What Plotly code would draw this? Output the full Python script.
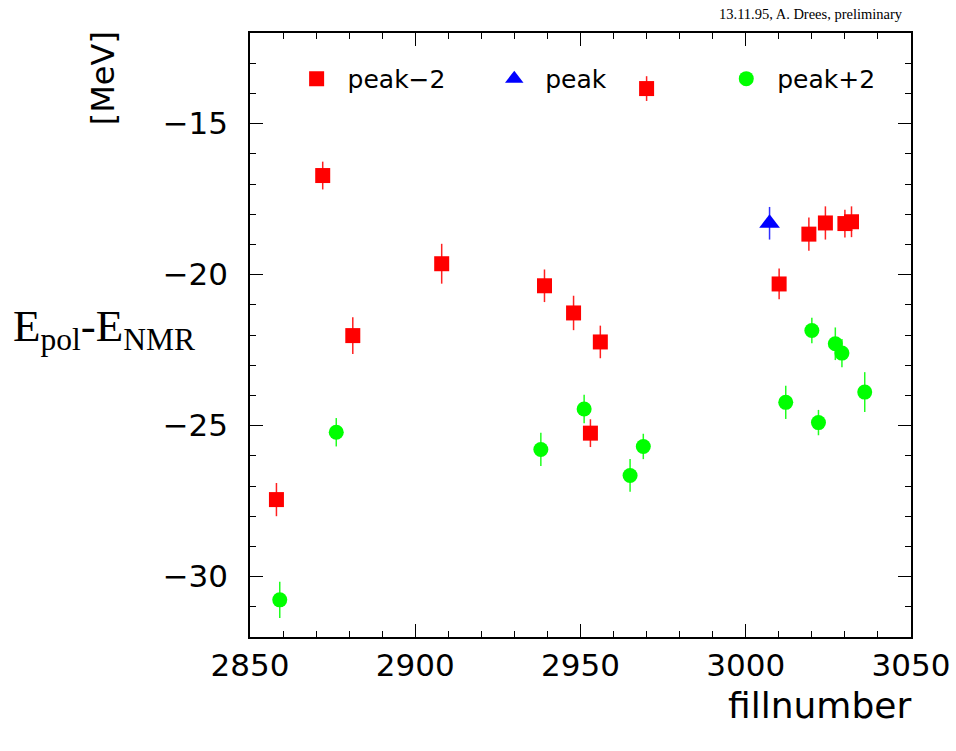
import plotly.graph_objects as go

# peak-2 (red squares)
fill_m2 = [2858, 2872, 2881.1, 2908, 2939.1, 2947.9, 2956, 2953, 2970, 3010.1, 3019.1, 3024.1, 3030, 3032]
de_m2 = [-27.45, -16.72, -22.02, -19.64, -20.37, -21.27, -22.23, -25.25, -13.84, -20.31, -18.66, -18.29, -18.31, -18.25]
err_m2 = [0.55, 0.46, 0.61, 0.66, 0.54, 0.57, 0.54, 0.46, 0.41, 0.51, 0.55, 0.55, 0.46, 0.51]

# peak (blue triangle)
fill_p = [3007.2]
de_p = [-18.3]
err_p = [0.54]

# peak+2 (green circles)
fill_p2 = [2859, 2876.1, 2938, 2951.1, 2965, 2969, 3012.1, 3020, 3022, 3027.1, 3029.1, 3036]
de_p2 = [-30.77, -25.22, -25.79, -24.45, -26.65, -25.69, -24.23, -21.85, -24.9, -22.29, -22.6, -23.89]
err_p2 = [0.6, 0.47, 0.55, 0.47, 0.54, 0.42, 0.55, 0.42, 0.42, 0.54, 0.47, 0.66]

x_ticks = [2850, 2900, 2950, 3000, 3050]
y_ticks = [-30, -25, -20, -15]

fig = go.Figure()
fig.add_trace(go.Scatter(
    x=fill_m2, y=de_m2, mode="markers", name="\u00a0peak\u22122", legend="legend",
    marker=dict(symbol="square", size=15, color="#ff0000", line=dict(width=0)),
    error_y=dict(type="data", array=err_m2, color="#ff2020", thickness=1.5, width=0)))
fig.add_trace(go.Scatter(
    x=fill_p, y=de_p, mode="markers", name="\u00a0peak", legend="legend2",
    marker=dict(symbol="triangle-up", size=18, color="#0000ff", line=dict(width=0)),
    error_y=dict(type="data", array=err_p, color="#3030ff", thickness=1.5, width=0)))
fig.add_trace(go.Scatter(
    x=fill_p2, y=de_p2, mode="markers", name="\u00a0peak+2", legend="legend3",
    marker=dict(symbol="circle", size=15, color="#00ff00", line=dict(width=0)),
    error_y=dict(type="data", array=err_p2, color="#20ff20", thickness=1.5, width=0)))

axis_common = dict(
    showline=True, linecolor="black", linewidth=1.5, mirror="allticks",
    ticks="inside", ticklen=13, tickwidth=1.2, tickcolor="black",
    showgrid=False, zeroline=False, automargin=False,
    tickfont=dict(family="DejaVu Sans", size=31, color="black"),
)
fig.update_xaxes(range=[2850, 3050], tickvals=x_ticks, ticktext=[str(v) for v in x_ticks],
                 minor=dict(dtick=10, ticks="inside", ticklen=6, tickcolor="black", tickwidth=1.2, showgrid=False),
                 ticklabelstandoff=0, **axis_common)
fig.update_yaxes(range=[-32, -12], tickvals=y_ticks, ticktext=["\u2212" + str(abs(v)) for v in y_ticks],
                 minor=dict(dtick=1, ticks="inside", ticklen=6, tickcolor="black", tickwidth=1.2, showgrid=False),
                 ticklabelstandoff=14, **axis_common)

plot_l, plot_r, plot_t, plot_b = 249.5, 910.7, 33.3, 636.7
W, H = 956, 751

leg_common = dict(orientation="h", yanchor="middle", y=0.924, xanchor="left",
                  bgcolor="rgba(0,0,0,0)", borderwidth=0, itemwidth=36,
                  font=dict(family="DejaVu Sans", size=25, color="black"))
fig.update_layout(
    width=W, height=H,
    margin=dict(l=plot_l, r=W - plot_r, t=plot_t, b=H - plot_b, autoexpand=False),
    paper_bgcolor="white", plot_bgcolor="white",
    showlegend=True,
    legend=dict(x=0.066, **leg_common),
    legend2=dict(x=0.365, **leg_common),
    legend3=dict(x=0.716, **leg_common),
)

def px(xp):
    return (xp - plot_l) / (plot_r - plot_l)
def py(yp):
    return (plot_b - yp) / (plot_b - plot_t)

fig.add_annotation(text="fillnumber", xref="paper", yref="paper", x=px(913), y=py(705),
                   showarrow=False, xanchor="right", yanchor="middle",
                   font=dict(family="DejaVu Sans", size=36, color="black"))
fig.add_annotation(text="[MeV]", textangle=-90, xref="paper", yref="paper", x=px(102), y=py(79),
                   showarrow=False, xanchor="center", yanchor="middle",
                   font=dict(family="DejaVu Sans", size=32, color="black"))
fig.add_annotation(text="E<sub>pol</sub>-E<sub>NMR</sub>", xref="paper", yref="paper", x=px(10), y=py(329),
                   showarrow=False, xanchor="left", yanchor="middle",
                   font=dict(family="Liberation Serif", size=45, color="black"))
fig.add_annotation(text="13.11.95, A. Drees, preliminary", xref="paper", yref="paper", x=px(904), y=py(14),
                   showarrow=False, xanchor="right", yanchor="middle", borderpad=0,
                   font=dict(family="Liberation Serif", size=14.5, color="black"))

# remove the default 8px page margin so the figure sits at the window origin
fig.write_html("out.html", config={"displayModeBar": False},
               post_script="document.body.style.margin='0';")
